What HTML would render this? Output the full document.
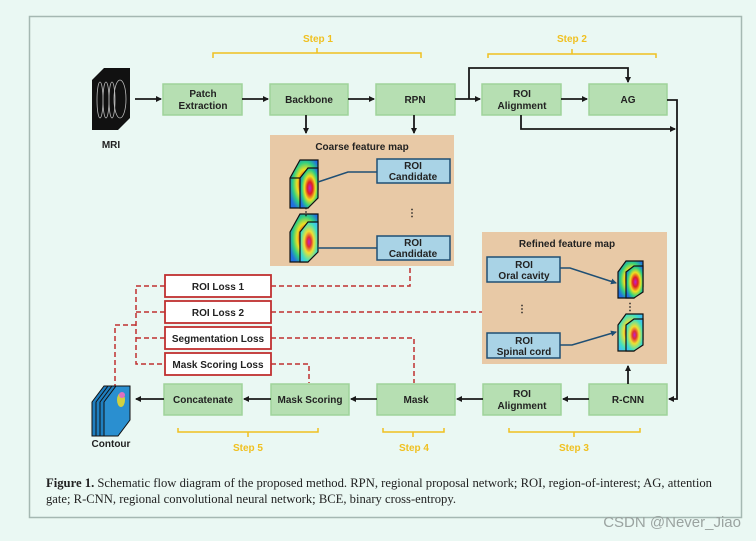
<!DOCTYPE html>
<html><head><meta charset="utf-8"><style>
html,body{margin:0;padding:0;background:#eaf8f3;}
svg{display:block;}
.b{font-family:"Liberation Sans",sans-serif;font-weight:bold;font-size:10px;fill:#222;text-anchor:middle;}
.st{font-family:"Liberation Sans",sans-serif;font-weight:bold;font-size:10px;fill:#f0c020;text-anchor:middle;}
.g{fill:#b6dfb2;stroke:#9fd39a;stroke-width:1.5;}
.bl{fill:#a9d3e6;stroke:#1f4f74;stroke-width:1.5;}
.r{fill:#fff;stroke:#c03030;stroke-width:1.8;}
.ln{stroke:#1a1a1a;stroke-width:1.8;fill:none;}
.d{stroke:#c03030;stroke-width:1.5;fill:none;stroke-dasharray:5,3;}
.y{stroke:#f0c020;stroke-width:1.5;fill:none;}
</style></head><body>
<svg width="756" height="541" viewBox="0 0 756 541" xmlns="http://www.w3.org/2000/svg">
<defs>
<marker id="a" markerWidth="6" markerHeight="6" refX="5" refY="3" orient="auto" markerUnits="userSpaceOnUse"><path d="M0,0L6,3L0,6z" fill="#1a1a1a"/></marker>
<marker id="ab" markerWidth="6" markerHeight="6" refX="5" refY="3" orient="auto" markerUnits="userSpaceOnUse"><path d="M0,0L6,3L0,6z" fill="#1f4f74"/></marker>
<radialGradient id="h1" cx="0.55" cy="0.5" r="0.6"><stop offset="0" stop-color="#c020d0"/><stop offset="0.25" stop-color="#e02020"/><stop offset="0.5" stop-color="#f0e020"/><stop offset="0.75" stop-color="#30d080"/><stop offset="1" stop-color="#2070e0"/></radialGradient>
<radialGradient id="h2" cx="0.5" cy="0.5" r="0.6"><stop offset="0" stop-color="#c020d0"/><stop offset="0.2" stop-color="#e03030"/><stop offset="0.45" stop-color="#f0e030"/><stop offset="0.8" stop-color="#40e0c0"/><stop offset="1" stop-color="#40c0f0"/></radialGradient>
</defs>
<rect x="29.5" y="16.5" width="712" height="501" fill="#eaf8f3" stroke="#a5b8b2" stroke-width="1.5"/>

<!-- MRI icon -->
<g>
<polygon points="92,80 104,68 130,68 130,118 118,130 92,130" fill="#111"/>
<g stroke="#bbb" stroke-width="0.8" fill="none">
<ellipse cx="100" cy="100" rx="3" ry="18"/><ellipse cx="106" cy="100" rx="3" ry="18"/><ellipse cx="112" cy="100" rx="3" ry="18"/><ellipse cx="120" cy="99" rx="6" ry="19"/>
</g>
<text class="b" x="111" y="148">MRI</text>
</g>

<text class="st" x="318" y="42">Step 1</text>
<path class="y" d="M213,58V53H421V58M317,53V48"/>
<text class="st" x="572" y="42">Step 2</text>
<path class="y" d="M488,58V54H656V58M572,54V49"/>

<rect class="g" x="163" y="84" width="79" height="31"/><text class="b" x="203" y="97">Patch</text><text class="b" x="203" y="109">Extraction</text>
<rect class="g" x="270" y="84" width="78" height="31"/><text class="b" x="309" y="103">Backbone</text>
<rect class="g" x="376" y="84" width="79" height="31"/><text class="b" x="415" y="103">RPN</text>
<rect class="g" x="482" y="84" width="79" height="31"/><text class="b" x="522" y="97">ROI</text><text class="b" x="522" y="109">Alignment</text>
<rect class="g" x="589" y="84" width="78" height="31"/><text class="b" x="628" y="103">AG</text>

<path class="ln" d="M135,99H161" marker-end="url(#a)"/>
<path class="ln" d="M242,99H268" marker-end="url(#a)"/>
<path class="ln" d="M348,99H374" marker-end="url(#a)"/>
<path class="ln" d="M455,99H480" marker-end="url(#a)"/>
<path class="ln" d="M561,99H587" marker-end="url(#a)"/>
<path class="ln" d="M469,99V68H628V82" marker-end="url(#a)"/>
<path class="ln" d="M521,115V129H675" marker-end="url(#a)"/>
<path class="ln" d="M667,100H677V399H669" marker-end="url(#a)"/>
<path class="ln" d="M306,115V133" marker-end="url(#a)"/>
<path class="ln" d="M414,115V133" marker-end="url(#a)"/>

<rect x="270" y="135" width="184" height="131" fill="#e8c9a6"/>
<text class="b" x="362" y="150">Coarse feature map</text>
<rect class="bl" x="377" y="159" width="73" height="24"/><text class="b" x="413" y="169">ROI</text><text class="b" x="413" y="180">Candidate</text>
<rect class="bl" x="377" y="236" width="73" height="24"/><text class="b" x="413" y="246">ROI</text><text class="b" x="413" y="257">Candidate</text>
<text class="b" x="412" y="216">⋮</text>
<g stroke="#111" stroke-width="1.2">
<polygon points="290,178 300,160 318,160 318,190 308,208 290,208" fill="url(#h1)"/>
<polygon points="300,178 308,168 318,168 318,198 308,208 300,208" fill="url(#h1)"/>
<line x1="290" y1="178" x2="300" y2="178"/>
<polygon points="290,232 300,214 318,214 318,244 308,262 290,262" fill="url(#h1)"/>
<polygon points="300,232 308,222 318,222 318,252 308,262 300,262" fill="url(#h2)"/>
</g>
<text class="b" x="306" y="215" font-size="8">⋮</text>
<path d="M318,182L348,172H377" stroke="#1f4f74" stroke-width="1.5" fill="none"/>
<path d="M318,248H377" stroke="#1f4f74" stroke-width="1.5" fill="none"/>

<rect x="482" y="232" width="185" height="132" fill="#e8c9a6"/>
<text class="b" x="567" y="247">Refined feature map</text>
<rect class="bl" x="487" y="257" width="73" height="25"/><text class="b" x="524" y="268">ROI</text><text class="b" x="524" y="279">Oral cavity</text>
<rect class="bl" x="487" y="333" width="73" height="25"/><text class="b" x="524" y="344">ROI</text><text class="b" x="524" y="355">Spinal cord</text>
<text class="b" x="522" y="312">⋮</text>
<g stroke="#111" stroke-width="1.2">
<polygon points="618,272 626,261 643,261 643,287 634,298 618,298" fill="url(#h1)"/>
<polygon points="626,272 634,266 643,266 643,292 634,298 626,298" fill="url(#h1)"/>
<polygon points="618,325 626,314 643,314 643,340 634,351 618,351" fill="url(#h2)"/>
<polygon points="626,325 634,319 643,319 643,345 634,351 626,351" fill="url(#h2)"/>
</g>
<text class="b" x="630" y="310" font-size="8">⋮</text>
<path d="M560,268L570,268L616,283" stroke="#1f4f74" stroke-width="1.5" fill="none" marker-end="url(#ab)"/>
<path d="M560,345L572,345L616,332" stroke="#1f4f74" stroke-width="1.5" fill="none" marker-end="url(#ab)"/>

<rect class="r" x="165" y="275" width="106" height="22"/><text class="b" x="218" y="290">ROI Loss 1</text>
<rect class="r" x="165" y="301" width="106" height="22"/><text class="b" x="218" y="316">ROI Loss 2</text>
<rect class="r" x="165" y="327" width="106" height="22"/><text class="b" x="218" y="342">Segmentation Loss</text>
<rect class="r" x="165" y="353" width="106" height="22"/><text class="b" x="218" y="368">Mask Scoring Loss</text>
<path class="d" d="M271,286H410V266"/>
<path class="d" d="M271,312H482"/>
<path class="d" d="M271,338H414V383"/>
<path class="d" d="M271,364H309V383"/>
<path class="d" d="M165,286H136V364H165M136,312H165M136,338H165M136,325H115V388"/>

<rect class="g" x="164" y="384" width="78" height="31"/><text class="b" x="203" y="403">Concatenate</text>
<rect class="g" x="271" y="384" width="78" height="31"/><text class="b" x="310" y="403">Mask Scoring</text>
<rect class="g" x="377" y="384" width="78" height="31"/><text class="b" x="416" y="403">Mask</text>
<rect class="g" x="483" y="384" width="78" height="31"/><text class="b" x="522" y="397">ROI</text><text class="b" x="522" y="409">Alignment</text>
<rect class="g" x="589" y="384" width="78" height="31"/><text class="b" x="628" y="403">R-CNN</text>
<path class="ln" d="M589,399H563" marker-end="url(#a)"/>
<path class="ln" d="M483,399H457" marker-end="url(#a)"/>
<path class="ln" d="M377,399H351" marker-end="url(#a)"/>
<path class="ln" d="M271,399H244" marker-end="url(#a)"/>
<path class="ln" d="M164,399H136" marker-end="url(#a)"/>
<path class="ln" d="M628,384V366" marker-end="url(#a)"/>

<g stroke="#111" stroke-width="1">
<polygon points="92,402 104,386 110,386 110,420 98,436 92,436" fill="#1f7fc0"/>
<polygon points="96,402 108,386 114,386 114,420 102,436 96,436" fill="#1f7fc0"/>
<polygon points="100,402 112,386 118,386 118,420 106,436 100,436" fill="#1f7fc0"/>
<polygon points="104,402 116,386 130,386 130,420 118,436 104,436" fill="#2a8fd0"/>
</g>
<ellipse cx="121" cy="400" rx="4" ry="7" fill="#d0d040"/><ellipse cx="122" cy="395" rx="3" ry="3" fill="#e070c0"/>
<text class="b" x="111" y="447">Contour</text>

<path class="y" d="M178,428V432H318V428M248,432V437"/>
<text class="st" x="248" y="451">Step 5</text>
<path class="y" d="M383,428V432H444V428M413,432V437"/>
<text class="st" x="414" y="451">Step 4</text>
<path class="y" d="M509,428V432H640V428M574,432V437"/>
<text class="st" x="574" y="451">Step 3</text>

<text x="46" y="487" font-family="Liberation Serif,serif" font-size="12.5" fill="#222" textLength="666" lengthAdjust="spacingAndGlyphs"><tspan font-weight="bold">Figure 1.</tspan> Schematic flow diagram of the proposed method. RPN, regional proposal network; ROI, region-of-interest; AG, attention</text>
<text x="46" y="503" font-family="Liberation Serif,serif" font-size="12.5" fill="#222" textLength="410" lengthAdjust="spacingAndGlyphs">gate; R-CNN, regional convolutional neural network; BCE, binary cross-entropy.</text>

<text x="741" y="527" text-anchor="end" font-family="Liberation Sans,sans-serif" font-size="15" fill="#9aa3a0">CSDN @Never_Jiao</text>
</svg>
</body></html>
